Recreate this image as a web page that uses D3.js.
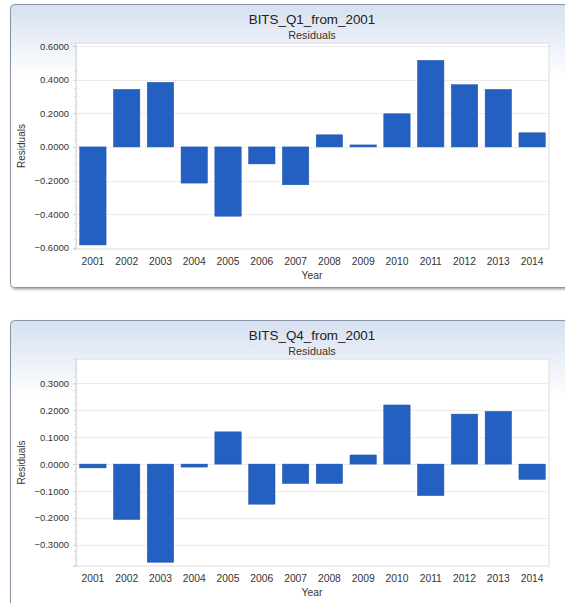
<!DOCTYPE html>
<html><head><meta charset="utf-8">
<script src="https://cdn.jsdelivr.net/npm/d3@7"></script>
<style>body{margin:0;background:#fff;}svg{display:block;}</style>
</head><body>
<script>
const years = ["2001","2002","2003","2004","2005","2006","2007","2008","2009","2010","2011","2012","2013","2014"];
const q1Values = [-0.583, 0.342, 0.384, -0.215, -0.412, -0.101, -0.225, 0.072, 0.012, 0.197, 0.515, 0.370, 0.342, 0.084];
const q4Values = [-0.014, -0.206, -0.365, -0.011, 0.120, -0.149, -0.072, -0.072, 0.034, 0.220, -0.117, 0.186, 0.196, -0.057];
const q1Ticks = [0.6, 0.4, 0.2, 0, -0.2, -0.4, -0.6];
const q4Ticks = [0.3, 0.2, 0.1, 0, -0.1, -0.2, -0.3];
const titles = ["BITS_Q1_from_2001", "BITS_Q4_from_2001"];

const W = 565, H = 603;
const svg = d3.select("body").append("svg").attr("width", W).attr("height", H);
const defs = svg.append("defs");
const grad = defs.append("linearGradient").attr("id","bg").attr("x1",0).attr("y1",0).attr("x2",0).attr("y2",1);
grad.append("stop").attr("offset","0%").attr("stop-color","#d6e0f1");
grad.append("stop").attr("offset","26%").attr("stop-color","#ffffff");
grad.append("stop").attr("offset","100%").attr("stop-color","#ffffff");
const sh = defs.append("filter").attr("id","sh").attr("x","-5%").attr("y","-5%").attr("width","110%").attr("height","110%");
sh.append("feDropShadow").attr("dx",1).attr("dy",1.5).attr("stdDeviation",1).attr("flood-color","#000").attr("flood-opacity",0.35);

const font = "'Liberation Sans', Arial, sans-serif";

function panel(cfg) {
  const g = svg.append("g");
  g.append("rect").attr("x", 10.5).attr("y", cfg.py + 0.5).attr("width", 575).attr("height", cfg.ph)
    .attr("rx", 4).attr("fill", "url(#bg)").attr("stroke", "#8a95a5").attr("stroke-width", 1).attr("filter","url(#sh)");

  const x = d3.scaleBand().domain(years).range([76, 549]).paddingInner(0.22).paddingOuter(0.11);
  const y = d3.scaleLinear().domain(cfg.domain).range([cfg.bottom, cfg.top]);

  g.append("rect").attr("x", 76).attr("y", cfg.top).attr("width", 549 - 76).attr("height", cfg.bottom - cfg.top)
    .attr("fill", "#fff").attr("stroke", "#dcdcdc");

  g.append("g").selectAll("line").data(cfg.ticks).join("line")
    .attr("x1", 76).attr("x2", 549).attr("y1", d => Math.round(y(d)) + 0.5).attr("y2", d => Math.round(y(d)) + 0.5)
    .attr("stroke", "#ececec");

  // minor ticks
  const step = (cfg.ticks[0] - cfg.ticks[1]) / 4;
  const minor = d3.range(cfg.ticks[cfg.ticks.length - 1] - step * 4, cfg.ticks[0] + step * 4 + 1e-9, step)
    .filter(v => y(v) >= cfg.top && y(v) <= cfg.bottom);
  g.append("g").selectAll("line").data(minor).join("line")
    .attr("x1", 74).attr("x2", 76).attr("y1", d => Math.round(y(d)) + 0.5).attr("y2", d => Math.round(y(d)) + 0.5)
    .attr("stroke", "#dadada");

  const ya = g.append("g").attr("transform", "translate(76,0)")
    .call(d3.axisLeft(y).tickValues(cfg.ticks).tickFormat(d3.format(".4f")).tickSize(3).tickPadding(4));
  ya.select(".domain").attr("stroke", "#dcdcdc");
  ya.selectAll(".tick line").attr("stroke", "#d0d0d0");
  ya.selectAll("text").attr("font-family", font).attr("font-size", 9.5).attr("fill", "#333");

  g.append("g").selectAll("rect").data(years.map((yr, i) => ({yr, v: cfg.values[i]}))).join("rect")
    .attr("x", d => x(d.yr)).attr("width", x.bandwidth())
    .attr("y", d => y(Math.max(0, d.v))).attr("height", d => Math.abs(y(d.v) - y(0)))
    .attr("fill", "#2360c2").attr("stroke", "#1d52a8").attr("stroke-width", 0.5);

  const xa = g.append("g").attr("transform", `translate(0,${cfg.bottom})`)
    .call(d3.axisBottom(x).tickSize(0).tickPadding(9));
  xa.select(".domain").remove();
  xa.selectAll("text").attr("font-family", font).attr("font-size", 10.3).attr("fill", "#333");

  g.append("text").attr("x", 312).attr("y", cfg.py + 20).attr("text-anchor", "middle")
    .attr("font-family", font).attr("font-size", 13.4).attr("fill", "#222").text(cfg.title);
  g.append("text").attr("x", 312).attr("y", cfg.py + 34.5).attr("text-anchor", "middle")
    .attr("font-family", font).attr("font-size", 10.8).attr("fill", "#333").text("Residuals");
  g.append("text").attr("x", 312).attr("y", cfg.bottom + 30).attr("text-anchor", "middle")
    .attr("font-family", font).attr("font-size", 10.3).attr("fill", "#333").text("Year");
  g.append("text").attr("transform", `translate(25,${(cfg.top + cfg.bottom) / 2}) rotate(-90)`).attr("text-anchor", "middle")
    .attr("font-family", font).attr("font-size", 10).attr("fill", "#333").text("Residuals");
}

panel({py: 4, ph: 283, top: 43, bottom: 249, domain: [-0.607, 0.618], ticks: q1Ticks, values: q1Values, title: titles[0]});
panel({py: 320, ph: 300, top: 359, bottom: 566, domain: [-0.379, 0.391], ticks: q4Ticks, values: q4Values, title: titles[1]});
</script>
</body></html>
